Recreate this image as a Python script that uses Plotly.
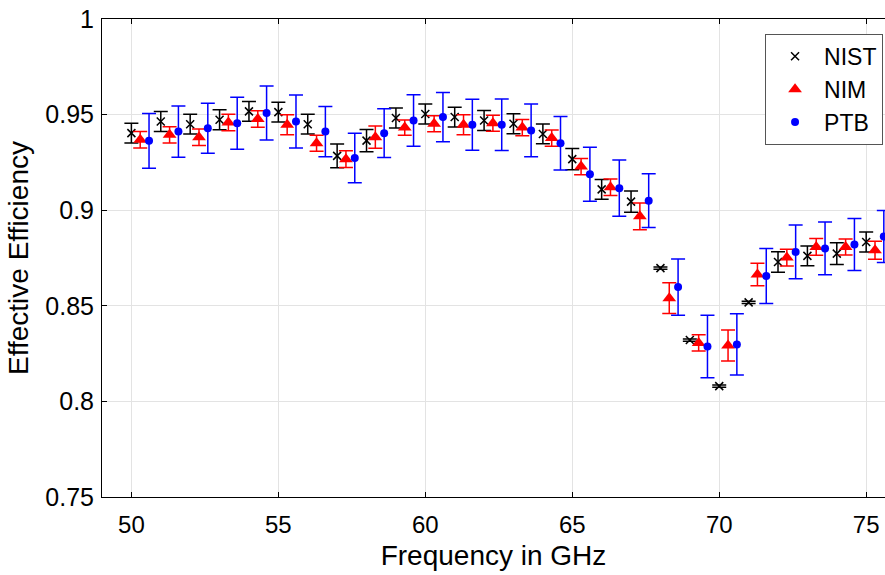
import plotly.graph_objects as go

freq = list(range(50, 76))

nist = [0.9403, 0.9464, 0.9450, 0.9473, 0.9517, 0.9513, 0.9450, 0.9284, 0.9364, 0.9482,
        0.9503, 0.9487, 0.9469, 0.9452, 0.9399, 0.9267, 0.9109, 0.9045, 0.8697, 0.8321,
        0.8080, 0.8518, 0.8729, 0.8761, 0.8773, 0.8834]
nist_err = [0.0052, 0.0052, 0.0052, 0.0052, 0.0052, 0.0052, 0.0052, 0.0062, 0.0058, 0.0052,
            0.0052, 0.0052, 0.0052, 0.0052, 0.0052, 0.0056, 0.0052, 0.0056, 0.0006, 0.0006,
            0.0006, 0.0006, 0.0054, 0.0052, 0.0057, 0.0052]

nim = [0.9368, 0.9394, 0.9382, 0.9459, 0.9477, 0.9447, 0.9350, 0.9267, 0.9382, 0.9432,
       0.9452, 0.9447, 0.9455, 0.9432, 0.9377, 0.9228, 0.9120, 0.8968, 0.8540, 0.8306,
       0.8292, 0.8664, 0.8752, 0.8808, 0.8808, 0.8791]
nim_err = [0.0043, 0.0043, 0.0043, 0.0043, 0.0043, 0.0052, 0.0042, 0.0044, 0.0058, 0.0040,
           0.0042, 0.0052, 0.0042, 0.0042, 0.0043, 0.0042, 0.0043, 0.0070, 0.0080, 0.0043,
           0.0081, 0.0059, 0.0044, 0.0044, 0.0042, 0.0047]

ptb = [0.9363, 0.9411, 0.9429, 0.9455, 0.9508, 0.9464, 0.9411, 0.9273, 0.9403, 0.9469,
       0.9487, 0.9447, 0.9447, 0.9417, 0.9350, 0.9188, 0.9115, 0.9050, 0.8598, 0.8287,
       0.8298, 0.8656, 0.8782, 0.8800, 0.8821, 0.8862]
ptb_err = [0.0143, 0.0134, 0.0131, 0.0136, 0.0141, 0.0139, 0.0131, 0.0129, 0.0128, 0.0135,
           0.0129, 0.0133, 0.0135, 0.0138, 0.0140, 0.0141, 0.0147, 0.0141, 0.0147, 0.0163,
           0.0160, 0.0144, 0.0140, 0.0138, 0.0136, 0.0136]

fig = go.Figure()

fig.add_trace(go.Scatter(
    x=freq, y=nist, mode="markers", name="NIST",
    marker=dict(symbol="x-thin", size=8, color="black", line=dict(width=1.5, color="black")),
    error_y=dict(type="data", array=nist_err, color="black", thickness=1.5, width=7),
))
fig.add_trace(go.Scatter(
    x=[f + 0.3 for f in freq], y=nim, mode="markers", name="NIM",
    marker=dict(symbol="triangle-up", size=12, color="#ff0000"),
    error_y=dict(type="data", array=nim_err, color="#ff0000", thickness=1.5, width=7),
))
fig.add_trace(go.Scatter(
    x=[f + 0.6 for f in freq], y=ptb, mode="markers", name="PTB",
    marker=dict(symbol="circle", size=8, color="#0000ff"),
    error_y=dict(type="data", array=ptb_err, color="#0000ff", thickness=1.5, width=7),
))

fig.update_layout(
    width=885, height=575,
    margin=dict(l=102, r=0, t=19, b=78),
    plot_bgcolor="white", paper_bgcolor="white",
    font=dict(family="Liberation Sans, Arial, sans-serif", size=24, color="black"),
    legend=dict(
        x=0.9975, y=0.969, xanchor="right", yanchor="top",
        bordercolor="#555555", borderwidth=1, bgcolor="white",
        font=dict(size=23), itemwidth=48,
    ),
)
fig.update_xaxes(
    range=[49, 75.64], tick0=50, dtick=5, automargin=False,
    showgrid=True, gridcolor="#e3e3e3", gridwidth=1,
    showline=True, linecolor="black", linewidth=1, mirror="ticks",
    ticks="inside", ticklen=5, tickcolor="black", zeroline=False,
    tickfont=dict(size=24), ticklabelstandoff=6, ticklabeloverflow="allow",
    title=dict(text="Frequency in GHz", font=dict(size=28), standoff=8),
)
fig.update_yaxes(
    range=[0.75, 1], tick0=0.75, dtick=0.05, automargin=False,
    showgrid=True, gridcolor="#e3e3e3", gridwidth=1,
    showline=True, linecolor="black", linewidth=1,
    ticks="inside", ticklen=5, tickcolor="black", zeroline=False,
    tickfont=dict(size=25), ticklabelstandoff=2, ticklabeloverflow="allow",
    title=dict(text="Effective Efficiency", font=dict(size=28), standoff=8),
)

# drop the default 8px body margin so the figure fills the window exactly
fig.write_html("out.html", config={"displayModeBar": False},
               post_script="document.body.style.margin='0';")
